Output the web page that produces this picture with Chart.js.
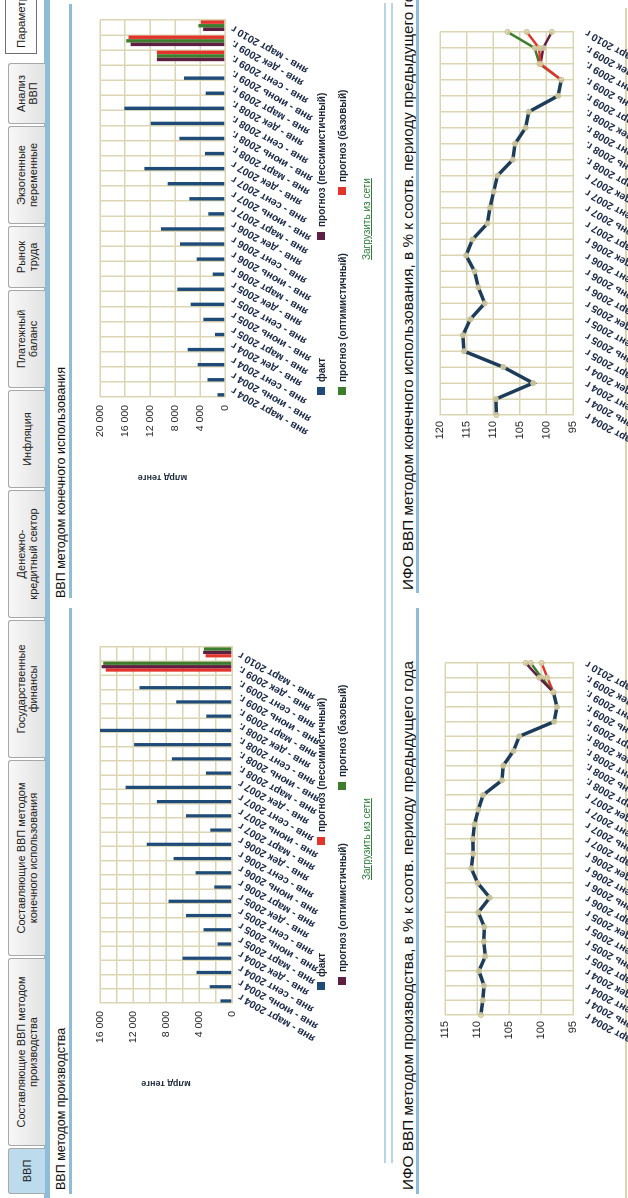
<!DOCTYPE html>
<html><head><meta charset="utf-8">
<script src="https://cdn.jsdelivr.net/npm/chart.js@4.4.1/dist/chart.umd.min.js"></script>
<style>
html,body{margin:0;padding:0;background:#fff;overflow:hidden;width:628px;height:1198px;}
#root{position:absolute;left:0;top:0;width:1198px;height:628px;overflow:hidden;background:#fff;
 transform-origin:0 0;transform:translate(0px,1198px) rotate(-90deg);font-family:"Liberation Sans",Arial,sans-serif;color:#1a1a1a;}
.tab{position:absolute;top:8px;height:37px;box-sizing:border-box;border:1px solid #a8a8a8;border-bottom:none;border-radius:3px 3px 0 0;
 background:linear-gradient(#f8f8f8,#e2e2e2);font-size:11px;color:#222;display:flex;align-items:center;justify-content:center;text-align:center;line-height:12px;}
.tab.active{background:#bcdbec;}
.btn{position:absolute;top:5px;height:32px;box-sizing:border-box;border:1px solid #707070;background:#fdfdfd;font-size:11.5px;display:flex;align-items:center;padding-left:5px;white-space:nowrap;}
.bar{position:absolute;background:#8fbdd8;}
.title{position:absolute;white-space:nowrap;color:#111;}
.leg{position:absolute;font-size:10px;font-weight:bold;color:#1c2636;white-space:nowrap;line-height:12px;}
.leg i{display:inline-block;width:8px;height:8px;margin-right:5px;vertical-align:-0px;}
.link{position:absolute;font-size:10px;color:#2f7d3a;text-decoration:underline;white-space:nowrap;}
canvas{position:absolute;}
</style></head>
<body>
<div id="root">
  <div class="bar" style="left:0;top:44px;width:1198px;height:6px;"></div>
  <div class="tab active" style="left:4px;width:46px;">ВВП</div>
  <div class="tab" style="left:52px;width:188px;">Составляющие ВВП методом<br>производства</div>
  <div class="tab" style="left:242px;width:196px;">Составляющие ВВП методом<br>конечного использования</div>
  <div class="tab" style="left:440px;width:138px;">Государственные<br>финансы</div>
  <div class="tab" style="left:580px;width:128px;">Денежно-<br>кредитный сектор</div>
  <div class="tab" style="left:710px;width:98px;">Инфляция</div>
  <div class="tab" style="left:810px;width:98px;">Платежный<br>баланс</div>
  <div class="tab" style="left:910px;width:62px;">Рынок<br>труда</div>
  <div class="tab" style="left:974px;width:98px;">Экзогенные<br>переменные</div>
  <div class="tab" style="left:1074px;width:61px;">Анализ<br>ВВП</div>
  <div class="btn" style="left:1144px;width:80px;">Параметры</div>

  <div class="title" style="left:8px;top:54px;font-size:12.5px;">ВВП методом производства</div>
  <div class="bar" style="left:4px;top:69px;width:586px;height:3px;"></div>
  <div class="title" style="left:600px;top:54px;font-size:12.5px;">ВВП методом конечного использования</div>
  <div class="bar" style="left:600px;top:69px;width:594px;height:3px;"></div>

  <div class="bar" style="left:35px;top:384px;width:1160px;height:2px;background:#b9d5e7;"></div>
  <div class="bar" style="left:35px;top:391px;width:1160px;height:2px;background:#b9d5e7;"></div>

  <div class="title" style="left:8px;top:399px;font-size:15.3px;">ИФО ВВП методом производства, в % к соотв. периоду предыдущего года</div>
  <div class="bar" style="left:4px;top:416px;width:586px;height:3px;"></div>
  <div class="title" style="left:608px;top:399px;font-size:15.3px;">ИФО ВВП методом конечного использования, в % к соотв. периоду предыдущего года</div>
  <div class="bar" style="left:605px;top:416px;width:593px;height:3px;"></div>
  <div class="bar" style="left:0;top:625px;width:1190px;height:2px;background:#ddd5b0;"></div>

  <canvas id="c1"></canvas>
  <canvas id="c2"></canvas>
  <canvas id="c3"></canvas>
  <canvas id="c4"></canvas>
  <div id="legends"></div>
  <div class="link" style="left:318px;top:361px;">Загрузить из сети</div>
  <div class="link" style="left:938px;top:361px;">Загрузить из сети</div>
</div>
<script>
// ---------- DATA ----------
const categories = [
 'янв - март 2004 г','янв - июнь 2004 г','янв - сент 2004 г','янв - дек 2004 г',
 'янв - март 2005 г','янв - июнь 2005 г','янв - сент 2005 г','янв - дек 2005 г',
 'янв - март 2006 г','янв - июнь 2006 г','янв - сент 2006 г','янв - дек 2006 г',
 'янв - март 2007 г','янв - июнь 2007 г','янв - сент 2007 г','янв - дек 2007 г',
 'янв - март 2008 г.','янв - июнь 2008 г.','янв - сент 2008 г.','янв - дек 2008 г.',
 'янв - март 2009 г.','янв - июнь 2009 г.','янв - сент 2009 г.','янв - дек 2009 г.',
 'янв - март 2010 г'];
const seriesNames = ['факт','прогноз (пессимистичный)','прогноз (оптимистичный)','прогноз (базовый)'];

// ВВП методом производства, млрд тенге
const gdpProdFact = [1400,2700,4300,6000,1750,3450,5580,7690,2150,4410,7080,10330,2630,5580,9100,12900,3160,7290,11860,16000,3120,6760,11210,null,null];
const gdpProdPess = [null,null,null,null,null,null,null,null,null,null,null,null,null,null,null,null,null,null,null,null,null,null,null,15300,3200];
const gdpProdOpt  = [null,null,null,null,null,null,null,null,null,null,null,null,null,null,null,null,null,null,null,null,null,null,null,15800,3500];
const gdpProdBase = [null,null,null,null,null,null,null,null,null,null,null,null,null,null,null,null,null,null,null,null,null,null,null,15600,3400];

// ВВП методом конечного использования, млрд тенге
const gdpUseFact = [1200,2800,4370,5970,1600,3470,5490,7630,1970,4530,7200,10240,2670,5700,9170,12900,3200,7300,11890,16100,3090,6560,null,null,null];
const gdpUsePess = [null,null,null,null,null,null,null,null,null,null,null,null,null,null,null,null,null,null,null,null,null,null,10900,15100,3500];
const gdpUseOpt  = [null,null,null,null,null,null,null,null,null,null,null,null,null,null,null,null,null,null,null,null,null,null,10900,15800,4250];
const gdpUseBase = [null,null,null,null,null,null,null,null,null,null,null,null,null,null,null,null,null,null,null,null,null,null,10900,15450,3850];

// ИФО ВВП методом производства, %
const ifoProdFact = [109.4,109.1,108.9,109.7,108.7,108.95,108.85,109.8,108.0,109.9,110.9,110.6,110.65,110.4,109.8,109.05,106.1,105.9,104.3,103.4,97.95,97.5,98.05,null,null];
const ifoProdPess = [null,null,null,null,null,null,null,null,null,null,null,null,null,null,null,null,null,null,null,null,null,null,98.05,99.0,99.9];
const ifoProdOpt  = [null,null,null,null,null,null,null,null,null,null,null,null,null,null,null,null,null,null,null,null,null,null,98.05,100.3,102.4];
const ifoProdBase = [null,null,null,null,null,null,null,null,null,null,null,null,null,null,null,null,null,null,null,null,null,null,98.05,99.9,101.6];

// ИФО ВВП методом конечного использования, %
const ifoUseFact = [109.4,109.5,102.5,108.1,115.5,115.7,114.3,111.6,112.8,113.5,115.1,113.9,111.1,110.6,109.9,109.2,106.3,105.9,103.9,103.3,97.8,97.2,null,null,null];
const ifoUsePess = [null,null,null,null,null,null,null,null,null,null,null,null,null,null,null,null,null,null,null,null,null,97.2,101.1,100.6,99.0];
const ifoUseOpt  = [null,null,null,null,null,null,null,null,null,null,null,null,null,null,null,null,null,null,null,null,null,97.2,101.3,102.2,107.3];
const ifoUseBase = [null,null,null,null,null,null,null,null,null,null,null,null,null,null,null,null,null,null,null,null,null,97.2,101.1,101.4,103.7];

// ---------- STYLE ----------
const NAVY='#1f4b78', LINE_NAVY='#1c3c5a', RED='#e2342a', GREEN='#3e7c2e', PURPLE='#5e1f42';
const GRID='#dcd5b4';
const FONT='"Liberation Sans", Arial, sans-serif';
Chart.defaults.font.family = FONT;
function fmt(v){ return String(v).replace(/\B(?=(\d{3})+(?!\d))/g,' '); }

function place(id, g){
  const c=document.getElementById(id);
  c.width=g.w; c.height=g.h;
  c.style.left=g.x+'px'; c.style.top=g.y+'px'; c.style.width=g.w+'px'; c.style.height=g.h+'px';
  return c;
}

function barChart(id, g, data, colors, yMax){
  const c=place(id,g);
  return new Chart(c,{
    type:'bar',
    data:{labels:categories, datasets:data.map((d,i)=>({label:seriesNames[i], data:d, backgroundColor:colors[i], borderWidth:0}))},
    options:{
      responsive:false, animation:false, devicePixelRatio:2,
      layout:{padding:{top:g.pt,right:g.pr,left:0,bottom:0}},
      plugins:{legend:{display:false},tooltip:{enabled:false}},
      datasets:{bar:{categoryPercentage:0.95,barPercentage:0.95}},
      scales:{
        x:{grid:{color:GRID,lineWidth:1.5,drawTicks:false},border:{color:GRID,width:1.5},
           ticks:{autoSkip:false,minRotation:60,maxRotation:60,padding:4,color:'#1b2a48',font:{size:10.5,weight:'bold'}},
           afterFit(s){s.height=g.xh;}},
        y:{min:0,max:yMax,grid:{color:GRID,lineWidth:1.5,drawTicks:false},border:{color:GRID,width:1.5},
           ticks:{stepSize:2000,padding:8,color:'#222',font:{size:10.5},callback:v=>(v%4000===0?fmt(v):'')},
           title:{display:true,text:'млрд тенге',color:'#1e2b3c',font:{size:9,weight:'bold'}},
           afterFit(s){s.width=g.yw;}}
      }
    }
  });
}

function lineChart(id, g, data, colors, yMin, yMax){
  const c=place(id,g);
  const ds=data.map((d,i)=>({label:seriesNames[i], data:d, borderColor:colors[i], backgroundColor:colors[i],
     borderWidth:i===0?3.5:2.5, pointRadius:2.5, pointBorderWidth:1, pointBorderColor:'#c9bf90',
     pointBackgroundColor:'rgba(222,214,172,0.85)', tension:0, spanGaps:false, order:g.order[i]}));
  return new Chart(c,{
    type:'line',
    data:{labels:categories, datasets:ds},
    options:{
      responsive:false, animation:false, devicePixelRatio:2,
      layout:{padding:{top:g.pt,right:g.pr,left:0,bottom:0}},
      plugins:{legend:{display:false},tooltip:{enabled:false}},
      scales:{
        x:{grid:{color:GRID,lineWidth:1.5,drawTicks:false},border:{color:GRID,width:1.5},
           ticks:{autoSkip:false,minRotation:60,maxRotation:60,padding:10,color:'#1b2a48',font:{size:10.5,weight:'bold'}},
           afterFit(s){s.height=g.xh;}},
        y:{min:yMin,max:yMax,grid:{color:GRID,lineWidth:1.5,drawTicks:false},border:{color:GRID,width:1.5},
           ticks:{stepSize:2.5,padding:6,color:'#222',font:{size:11},callback:v=>(v%5===0?String(v):'')},
           afterFit(s){s.width=g.yw;}}
      }
    }
  });
}

const ch1 = barChart('c1',{x:105,y:85,w:490,h:250,pt:15,pr:44,yw:90,xh:103},
  [gdpProdFact,gdpProdPess,gdpProdOpt,gdpProdBase],[NAVY,RED,PURPLE,GREEN],16000);
const ch2 = barChart('c2',{x:711,y:85,w:487,h:250,pt:15,pr:20,yw:90,xh:110},
  [gdpUseFact,gdpUsePess,gdpUseOpt,gdpUseBase],[NAVY,PURPLE,GREEN,RED],20000);
const ch3 = lineChart('c3',{x:90,y:430,w:500,h:280,pt:15,pr:55,yw:93,xh:137,order:[0,3,1,2]},
  [ifoProdFact,ifoProdPess,ifoProdOpt,ifoProdBase],[LINE_NAVY,RED,PURPLE,GREEN],95,115);
const ch4 = lineChart('c4',{x:690,y:425,w:508,h:285,pt:15,pr:32,yw:93,xh:137,order:[0,3,2,1]},
  [ifoUseFact,ifoUsePess,ifoUseOpt,ifoUseBase],[LINE_NAVY,PURPLE,GREEN,RED],95,120);

// HTML legends built from the charts' own legend items
function htmlLegend(chart, spots){
  const items = Chart.defaults.plugins.legend.labels.generateLabels(chart);
  const box = document.getElementById('legends');
  items.forEach((it,i)=>{
    const d=document.createElement('div'); d.className='leg';
    d.style.left=spots[i][0]+'px'; d.style.top=(spots[i][1]-6)+'px';
    const sq=document.createElement('i'); sq.style.background=it.fillStyle;
    d.appendChild(sq); d.appendChild(document.createTextNode(it.text));
    box.appendChild(d);
  });
}
htmlLegend(ch1,[[208,322],[353,322],[213,343],[408,343]]);
htmlLegend(ch2,[[803,322],[958,322],[803,343],[1003,343]]);
</script>
</body></html>
